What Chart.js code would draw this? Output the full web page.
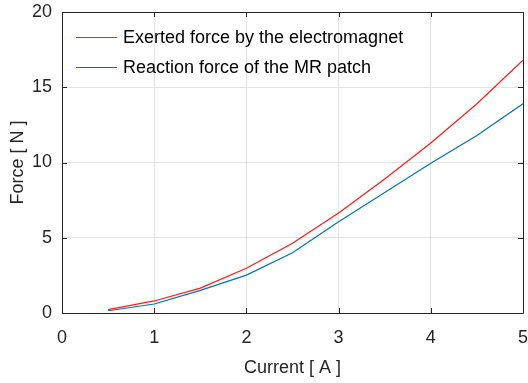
<!DOCTYPE html>
<html>
<head>
<meta charset="utf-8">
<script src="https://cdn.jsdelivr.net/npm/chart.js@4.4.1/dist/chart.umd.min.js"></script>
<style>
  html, body { margin: 0; padding: 0; background: #fff; }
  #wrap { width: 528px; height: 383px; }
</style>
</head>
<body>
<div id="wrap"><canvas id="forceChart"></canvas></div>
<script>
// Corriente aplicada (A)
const currents = [0.5, 1, 1.5, 2, 2.5, 3, 3.5, 4, 4.5, 5];
// Fuerza del electroimán (N)
const exertedForce = [0.22, 0.8, 1.65, 2.97, 4.63, 6.65, 8.9, 11.3, 13.9, 16.8];
// Fuerza de reacción del parche MR (N)
const reactionForce = [0.15, 0.6, 1.5, 2.52, 4.0, 6.07, 8.0, 9.95, 11.8, 13.9];

const seriesLabels = ['Exerted force by the electromagnet', 'Reaction force of the MR patch'];
const seriesColors = ['#ff1a1a', '#0072bd'];

const axisColor = '#262626';
const font = 'Liberation Sans, Arial, sans-serif';

function toPoints(xs, ys) {
    return xs.map((x, i) => ({ x: x, y: ys[i] }));
}

// Caja de ejes, marcas interiores y leyenda dentro del área
const boxPlugin = {
    id: 'boxPlugin',
    afterDraw(chart) {
        const ctx = chart.ctx;
        const a = chart.chartArea;
        const xs = chart.scales.x;
        const ys = chart.scales.y;
        const tick = 5;
        ctx.save();
        ctx.strokeStyle = axisColor;
        ctx.lineWidth = 1;
        ctx.beginPath();
        ctx.rect(Math.round(a.left) + 0.5, Math.round(a.top) + 0.5,
                 Math.round(a.right - a.left), Math.round(a.bottom - a.top));
        ctx.stroke();
        ctx.beginPath();
        xs.ticks.forEach(t => {
            const px = Math.round(xs.getPixelForValue(t.value)) + 0.5;
            ctx.moveTo(px, a.bottom); ctx.lineTo(px, a.bottom - tick);
            ctx.moveTo(px, a.top); ctx.lineTo(px, a.top + tick);
        });
        ys.ticks.forEach(t => {
            const py = Math.round(ys.getPixelForValue(t.value)) + 0.5;
            ctx.moveTo(a.left, py); ctx.lineTo(a.left + tick, py);
            ctx.moveTo(a.right, py); ctx.lineTo(a.right - tick, py);
        });
        ctx.stroke();

        // leyenda
        ctx.font = '18px ' + font;
        ctx.textBaseline = 'middle';
        ctx.fillStyle = '#000';
        chart.data.datasets.forEach((ds, i) => {
            const y = a.top + 25 + i * 30;
            ctx.strokeStyle = ds.borderColor;
            ctx.beginPath();
            ctx.moveTo(a.left + 14, y + 0.5);
            ctx.lineTo(a.left + 55, y + 0.5);
            ctx.stroke();
            ctx.fillText(ds.label, a.left + 61, y + 1);
        });
        ctx.restore();
    }
};

const ctx = document.getElementById('forceChart').getContext('2d');
const forceChart = new Chart(ctx, {
    type: 'line',
    data: {
        datasets: [
            {
                label: seriesLabels[0],
                data: toPoints(currents, exertedForce),
                borderColor: seriesColors[0],
                borderWidth: 1.2,
                pointRadius: 0,
                tension: 0
            },
            {
                label: seriesLabels[1],
                data: toPoints(currents, reactionForce),
                borderColor: seriesColors[1],
                borderWidth: 1.2,
                pointRadius: 0,
                tension: 0
            }
        ]
    },
    options: {
        responsive: true,
        maintainAspectRatio: false,
        animation: false,
        layout: {
            padding: { top: 12, right: 5, left: 0, bottom: 0 }
        },
        scales: {
            x: {
                type: 'linear',
                min: 0,
                max: 5,
                ticks: {
                    stepSize: 1,
                    color: axisColor,
                    padding: 14,
                    font: { family: font, size: 18 }
                },
                grid: { color: '#e3e3e3', drawTicks: false },
                border: { display: false },
                title: {
                    display: true,
                    text: 'Current [ A ]',
                    color: axisColor,
                    padding: { top: 6 },
                    font: { family: font, size: 18 }
                },
                afterFit(scale) {
                    scale.height = 70;
                    scale.paddingLeft = 0;
                    scale.paddingRight = 0;
                }
            },
            y: {
                min: 0,
                max: 20,
                ticks: {
                    stepSize: 5,
                    color: axisColor,
                    padding: 10,
                    font: { family: font, size: 18 }
                },
                grid: { color: '#e3e3e3', drawTicks: false },
                border: { display: false },
                title: {
                    display: true,
                    text: 'Force [ N ]',
                    color: axisColor,
                    padding: { top: 7, bottom: 0 },
                    font: { family: font, size: 18 }
                },
                afterFit(scale) {
                    scale.width = 62;
                    scale.paddingTop = 0;
                    scale.paddingBottom = 0;
                }
            }
        },
        plugins: {
            legend: { display: false },
            tooltip: { enabled: false }
        }
    },
    plugins: [boxPlugin]
});
</script>
</body>
</html>
